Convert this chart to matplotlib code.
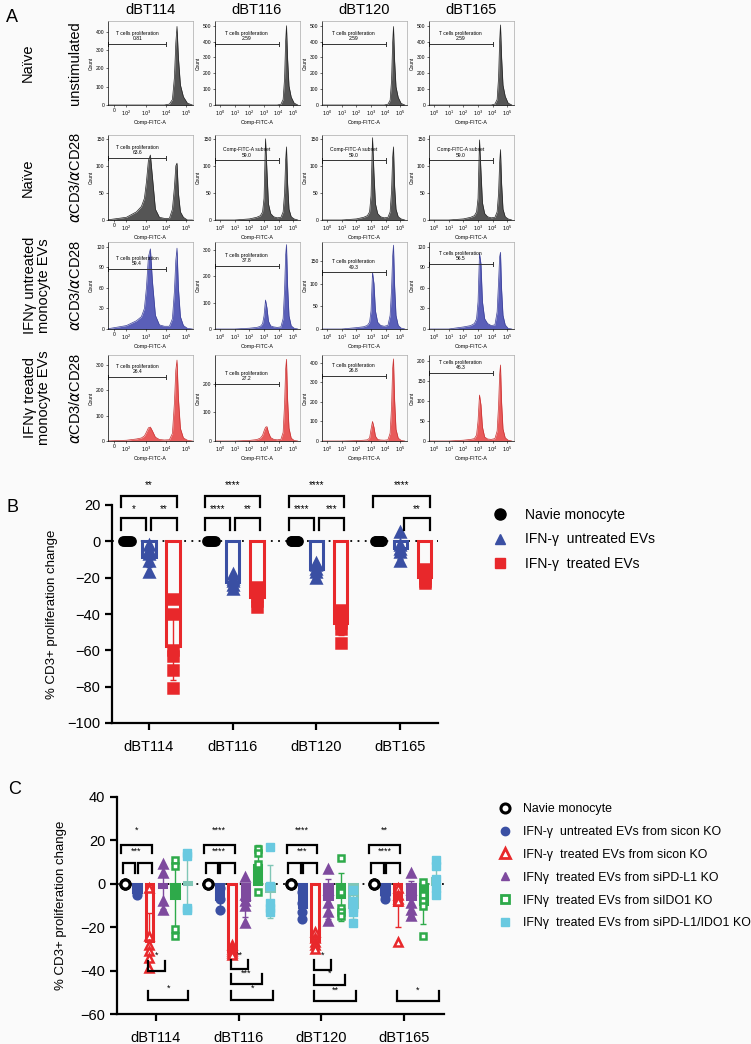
import numpy as np
import matplotlib.pyplot as plt
from matplotlib.lines import Line2D

plt.rcParams["font.family"] = ["Liberation Sans", "DejaVu Sans"]
plt.rcParams["axes.unicode_minus"] = True

W, H = 751, 1044
BG = "#fafafa"

# ---------------- panel A data (flow histograms) ----------------
a_cols = ["dBT114", "dBT116", "dBT120", "dBT165"]
a_grid = [-0.3, 1.0, 2.0, 2.5, 2.75, 2.9, 3.0, 3.1, 3.2, 3.3, 3.45, 3.65, 3.9,
          4.15, 4.3, 4.4, 4.47, 4.53, 4.6, 4.7, 4.85, 5.05, 5.3]

a_unstim = [
    [0, 0, 0, 0, 0, 0, 0, 0, 0, 0, 0, 0, 0, 5, 30, 150, 340, 430, 260, 110, 45, 10, 0],
    [0, 0, 0, 0, 0, 0, 0, 0, 0, 0, 0, 0, 0, 5, 35, 170, 400, 500, 300, 120, 50, 12, 0],
    [0, 0, 0, 0, 0, 0, 0, 0, 0, 0, 0, 0, 0, 5, 30, 160, 390, 495, 290, 115, 48, 10, 0],
    [0, 0, 0, 0, 0, 0, 0, 0, 0, 0, 0, 0, 0, 6, 35, 175, 400, 505, 310, 125, 55, 12, 0],
]
a_stim = [
    [0, 0, 5, 15, 25, 40, 70, 110, 120, 80, 20, 5, 3, 3, 20, 60, 100, 105, 50, 15, 5, 0, 0],
    [0, 0, 2, 5, 8, 15, 40, 150, 90, 30, 12, 6, 4, 5, 15, 50, 110, 135, 70, 20, 6, 2, 0],
    [0, 0, 2, 5, 8, 15, 45, 152, 85, 30, 12, 6, 4, 5, 15, 55, 115, 135, 65, 20, 6, 2, 0],
    [0, 0, 2, 5, 8, 15, 40, 148, 90, 32, 12, 6, 4, 5, 15, 50, 105, 130, 70, 20, 6, 2, 0],
]
a_untreated = [
    [0, 0, 5, 12, 18, 30, 60, 105, 117, 70, 20, 6, 4, 4, 15, 55, 100, 118, 60, 18, 5, 1, 0],
    [0, 0, 3, 6, 10, 20, 50, 110, 80, 30, 12, 8, 6, 8, 40, 150, 280, 320, 170, 50, 12, 3, 0],
    [0, 0, 3, 5, 8, 15, 40, 125, 100, 40, 15, 8, 6, 8, 30, 90, 160, 185, 100, 30, 8, 2, 0],
    [0, 0, 3, 5, 8, 15, 40, 110, 95, 40, 15, 8, 5, 6, 25, 70, 105, 112, 60, 20, 6, 1, 0],
]
a_treated = [
    [0, 0, 3, 8, 12, 20, 35, 52, 55, 40, 15, 6, 4, 5, 30, 150, 280, 320, 170, 50, 12, 3, 0],
    [0, 0, 2, 5, 10, 20, 35, 48, 50, 30, 12, 6, 4, 6, 30, 130, 250, 285, 150, 45, 10, 2, 0],
    [0, 0, 2, 4, 6, 15, 60, 100, 70, 25, 8, 5, 4, 6, 40, 180, 370, 420, 220, 60, 15, 3, 0],
    [0, 0, 2, 4, 6, 15, 50, 115, 90, 35, 10, 5, 4, 6, 25, 90, 165, 190, 100, 30, 8, 2, 0],
]
a_ymax = [[460, 530, 530, 530], [157, 157, 157, 157], [127, 330, 192, 127], [340, 300, 440, 215]]
a_ystep = [[100, 100, 100, 100], [50, 50, 50, 50], [30, 100, 50, 30], [100, 100, 100, 50]]
a_gate_y = [[336, 385, 385, 385], [115, 110, 110, 110], [88, 240, 125, 95], [253, 200, 334, 170]]
a_gate_name = [["T cells proliferation"] * 4,
               ["T cells proliferation", "Comp-FITC-A subset", "Comp-FITC-A subset", "Comp-FITC-A subset"],
               ["T cells proliferation"] * 4,
               ["T cells proliferation"] * 4]
a_gate_val = [["0.81", "2.59", "2.59", "2.59"],
              ["63.6", "59.0", "59.0", "59.0"],
              ["59.4", "37.8", "49.3", "56.5"],
              ["26.4", "27.2", "26.8", "46.3"]]
a_outer = ["Naïve", "Naïve", "IFNγ untreated\nmonocyte EVs", "IFNγ treated\nmonocyte EVs"]
a_inner = ["unstimulated", r"$\alpha$CD3/$\alpha$CD28", r"$\alpha$CD3/$\alpha$CD28", r"$\alpha$CD3/$\alpha$CD28"]

# ---------------- panel B data ----------------
cats = ["dBT114", "dBT116", "dBT120", "dBT165"]
b_naive = [[0, 0, 0, 0, 0, 0]] * 4
b_untreated = [[-2, -5, -7, -11, -17], [-18, -21, -22, -24, -26],
               [-12, -13, -15, -17, -20], [5, -2, -4, -6, -11]]
b_treated = [[-32, -40, -60, -63, -71, -81], [-25, -28, -30, -33, -36],
             [-38, -40, -42, -45, -48, -56], [-15, -18, -20, -22, -23]]
b_labels = ["Navie monocyte", "IFN-γ  untreated EVs", "IFN-γ  treated EVs"]

# ---------------- panel C data ----------------
c_naive = [[0, 0, 0]] * 4
c_untreated = [[-3, -4, -5], [-2, -7, -12], [-4, -9, -13, -16], [-2, -5, -7]]
c_treated = [[-2, -24, -28, -31, -34, -39], [-28, -30, -31, -32, -33],
             [-22, -25, -27, -28, -30], [-2, -5, -7, -8, -27]]
c_pdl1 = [[9, 5, -8, -12], [3, -5, -8, -10, -18], [7, -3, -9, -13, -17], [5, -3, -9, -12, -15]]
c_ido1 = [[11, 8, -21, -24], [16, 14, 9, -4], [12, -4, -11, -13, -15], [1, -5, -8, -10, -24]]
c_both = [[14, 13, -11, -12], [17, -1, -9, -11, -13], [-3, -8, -11, -13, -18], [11, 8, 2, -2, -5]]
c_labels = ["Navie monocyte", "IFN-γ  untreated EVs from sicon KO", "IFN-γ  treated EVs from sicon KO",
            "IFNγ  treated EVs from siPD-L1 KO", "IFNγ  treated EVs from siIDO1 KO",
            "IFNγ  treated EVs from siPD-L1/IDO1 KO"]

BLUE, RED, PURPLE, GREEN, CYAN = "#3a4fa3", "#e8282b", "#7e4a9e", "#2eaa4a", "#69c9e0"

fig = plt.figure(figsize=(W / 100, H / 100), dpi=100, facecolor=BG)


def px_axes(x0, y0, x1, y1):
    return fig.add_axes([x0 / W, 1 - y1 / H, (x1 - x0) / W, (y1 - y0) / H], facecolor=BG)


def ftext(x, y, s, **kw):
    fig.text(x / W, 1 - y / H, s, **kw)


# ---------------- panel A ----------------
ftext(6, 18, "A", fontsize=13, va="center")
col_x = [108, 215, 322, 429]
row_y = [(21, 105), (135, 220), (242, 329), (355, 441)]
rows = [a_unstim, a_stim, a_untreated, a_treated]
fills = [("#555555", "#222222")] * 2 + [("#5a5fb8", "#3a3f98"), ("#e85a5a", "#c83030")]

for j, name in enumerate(a_cols):
    ftext(col_x[j] + 42, 10, name, fontsize=10.5, ha="center", va="center")

for i, data in enumerate(rows):
    y0, y1 = row_y[i]
    yc = (y0 + y1) / 2
    ftext(28 if i < 2 else 37, yc, a_outer[i], fontsize=10.5, rotation=90,
          ha="center", va="center", linespacing=1.0)
    ftext(75, yc, a_inner[i], fontsize=10.5, rotation=90, ha="center", va="center")
    for j in range(4):
        ax = px_axes(col_x[j], y0, col_x[j] + 85, y1)
        fc, ec = fills[i]
        ax.fill_between(a_grid, data[j], color=fc, lw=0)
        ax.plot(a_grid, data[j], color=ec, lw=0.5)
        ymax = a_ymax[i][j]
        ax.set_ylim(0, ymax)
        ax.set_yticks(np.arange(0, ymax, a_ystep[i][j]))
        if j == 0:
            ax.set_xlim(1.08, 5.33)
            ax.set_xticks([1.38, 2, 3, 4, 5])
            ax.set_xticklabels(["0", "$10^2$", "$10^3$", "$10^4$", "$10^5$"])
        else:
            ax.set_xlim(-0.34, 5.45)
            ax.set_xticks(range(6))
            ax.set_xticklabels([f"$10^{k}$" for k in range(6)])
        ax.tick_params(length=1.5, width=0.4, labelsize=3.6, pad=1)
        for s in ["top", "right"]:
            ax.spines[s].set_color("#aaaaaa")
        for s in ax.spines.values():
            s.set_linewidth(0.5)
        ax.set_ylabel("Count", fontsize=3.5, labelpad=1.5)
        ax.set_xlabel("Comp-FITC-A", fontsize=3.8, labelpad=1.5)
        # gate
        xl = ax.get_xlim()[0]
        g = a_gate_y[i][j]
        cap = ymax * 0.025
        ax.plot([xl, 4.0], [g, g], color="#333333", lw=0.7, clip_on=False)
        ax.plot([xl, xl], [g - cap, g + cap], color="#333333", lw=0.7, clip_on=False)
        ax.plot([4.0, 4.0], [g - cap, g + cap], color="#333333", lw=0.7)
        ax.text((xl + 4.0) / 2, g + ymax * 0.03, a_gate_name[i][j] + "\n" + a_gate_val[i][j],
                fontsize=3.6, ha="center", va="bottom", linespacing=1.1)


# ---------------- helpers for B and C ----------------
def style_axes(ax, ylim, yticks, xlim, ylab_x):
    ax.set_ylim(*ylim)
    ax.set_yticks(yticks)
    ax.set_xlim(*xlim)
    ax.set_xticks(range(4))
    ax.set_xticklabels(cats)
    for s in ["top", "right"]:
        ax.spines[s].set_visible(False)
    for s in ["left", "bottom"]:
        ax.spines[s].set_linewidth(1.6)
    ax.tick_params(width=1.6, length=5, labelsize=10.5)
    ax.tick_params(axis="x", pad=7)
    ax.set_ylabel("% CD3+ proliferation change", fontsize=9.5)
    ax.yaxis.set_label_coords(ylab_x, 0.5)
    ax.axhline(0, color="k", lw=1.3, ls=(0, (1, 3)), zorder=1)


def bar_group(ax, xs, values, color, width, filled, marker, mfc, ms, ecolor=None, z=3):
    means = [np.mean(v) for v in values]
    sds = [np.std(v, ddof=1) for v in values]
    ax.bar(xs, means, width=width, color=color if filled else BG, edgecolor=color,
           linewidth=2.2, zorder=z)
    ax.errorbar(xs, means, yerr=sds, fmt="none", ecolor=ecolor or color, elinewidth=1.0,
                capsize=2.5, capthick=1.0, zorder=z + 1)
    for x, v in zip(xs, values):
        ax.plot([x] * len(v), v, ls="", marker=marker, color=color, mfc=mfc, mec=color,
                ms=ms, mew=1.8, zorder=z + 2)


def bracket(ax, x1, x2, y, leg, label, ty, fs=7):
    ax.plot([x1, x1, x2, x2], [y + leg, y, y, y + leg], color="k", lw=1.6,
            clip_on=False, solid_joinstyle="miter", zorder=6)
    ax.text((x1 + x2) / 2, ty, label, ha="center", va="center", fontsize=fs, clip_on=False)


# ---------------- panel B ----------------
ftext(7, 508, "B", fontsize=13, va="center")
axb = px_axes(112, 505, 438, 723)
style_axes(axb, (-100, 20), range(-100, 21, 20), (-0.44, 3.45), -(112 - 58) / 326)
pos = np.arange(4)
for k in range(4):
    axb.scatter(pos[k] - 0.26 + np.linspace(-0.045, 0.045, len(b_naive[k])), b_naive[k],
                s=45, color="k", zorder=5)
bar_group(axb, pos, b_untreated, BLUE, 0.16, False, "^", BLUE, 6.5)
bar_group(axb, pos + 0.29, b_treated, RED, 0.16, False, "s", RED, 6.5)

b_brackets = [
    (0, -0.33, 0.33, "**", True), (0, -0.33, -0.03, "*", False), (0, 0.03, 0.33, "**", False),
    (1, -0.33, 0.33, "****", True), (1, -0.33, -0.03, "****", False), (1, 0.03, 0.33, "**", False),
    (2, -0.33, 0.33, "****", True), (2, -0.33, -0.03, "****", False), (2, 0.03, 0.33, "***", False),
    (3, -0.33, 0.35, "****", True), (3, 0.04, 0.35, "**", False),
]
for k, x1, x2, lab, upper in b_brackets:
    if upper:
        bracket(axb, k + x1, k + x2, 25, -6, lab, 31)
    else:
        bracket(axb, k + x1, k + x2, 12.8, -6.4, lab, 17.5)

hb = [Line2D([], [], ls="", marker="o", color="k", ms=8),
      Line2D([], [], ls="", marker="^", color=BLUE, ms=7),
      Line2D([], [], ls="", marker="s", color=RED, ms=7)]
fig.legend(hb, b_labels, loc="upper left", bbox_to_anchor=(493 / W, 1 - 508 / H),
           frameon=False, fontsize=10, handlelength=1.0, handletextpad=1.3,
           labelspacing=0.75, borderpad=0, borderaxespad=0)

# ---------------- panel C ----------------
ftext(8, 790, "C", fontsize=13, va="center")
axc = px_axes(117, 797, 444, 1014)
style_axes(axc, (-60, 40), range(-60, 41, 20), (-0.47, 3.48), -(117 - 67) / 327)
offs = [-0.37, -0.23, -0.08, 0.08, 0.23, 0.38]
for k in range(4):
    axc.plot([pos[k] + offs[0]] * len(c_naive[k]), c_naive[k], ls="", marker="o",
             mfc="white", mec="k", mew=2.2, ms=6.5, zorder=5)
bar_group(axc, pos + offs[1], c_untreated, BLUE, 0.09, True, "o", BLUE, 5.5)
bar_group(axc, pos + offs[2], c_treated, RED, 0.09, False, "^", "white", 5.5)
bar_group(axc, pos + offs[3], c_pdl1, PURPLE, 0.09, True, "^", PURPLE, 5.5)
bar_group(axc, pos + offs[4], c_ido1, GREEN, 0.09, True, "s", "white", 5.0)
bar_group(axc, pos + offs[5], c_both, "#80c6b6", 0.09, False, "s", CYAN, 5.0, ecolor="#80c6b6")
# cyan points drawn in their own colour on top
for k in range(4):
    axc.plot([pos[k] + offs[5]] * len(c_both[k]), c_both[k], ls="", marker="s", color=CYAN,
             ms=5.5, zorder=6)

c_top = [("*", "***"), ("****", "****"), ("****", "***"), ("**", "****")]
for k, (t1, t2) in enumerate(c_top):
    bracket(axc, k - 0.42, k - 0.05, 17.8, -3.8, t1, 24.5, fs=6.5)
    axc.text(k - 0.235, 15.2, t2, ha="center", va="center", fontsize=6.5)
    bracket(axc, k - 0.40, k - 0.25, 9.7, -4.9, "", 0)
    bracket(axc, k - 0.22, k - 0.05, 9.7, -4.9, "", 0)

c_bottom = [
    (0, 0.11, "*", -40, -33), (0, 0.39, "*", -53.7, -48),
    (1, 0.11, "**", -39.4, -33), (1, 0.28, "***", -46, -41.4), (1, 0.42, "*", -53.7, -48),
    (2, 0.11, "*", -39.7, -33), (2, 0.28, "*", -46.6, -41), (2, 0.42, "**", -54, -49),
    (3, 0.42, "*", -54, -49),
]
for k, x2, lab, y, ty in c_bottom:
    bracket(axc, k - 0.09, k + x2, y, 4.5, lab, ty, fs=6.5)

hc = [Line2D([], [], ls="", marker="o", mfc="white", mec="k", mew=2.2, ms=6.5),
      Line2D([], [], ls="", marker="o", color=BLUE, ms=6),
      Line2D([], [], ls="", marker="^", mfc="white", mec=RED, mew=2, ms=6.5),
      Line2D([], [], ls="", marker="^", color=PURPLE, ms=6),
      Line2D([], [], ls="", marker="s", mfc="white", mec=GREEN, mew=2, ms=6),
      Line2D([], [], ls="", marker="s", color=CYAN, ms=6)]
fig.legend(hc, c_labels, loc="upper left", bbox_to_anchor=(498 / W, 1 - 803 / H),
           frameon=False, fontsize=8.9, handlelength=1.2, handletextpad=0.85,
           labelspacing=0.88, borderpad=0, borderaxespad=0)

fig.savefig("out.png", dpi=100, facecolor=BG)
